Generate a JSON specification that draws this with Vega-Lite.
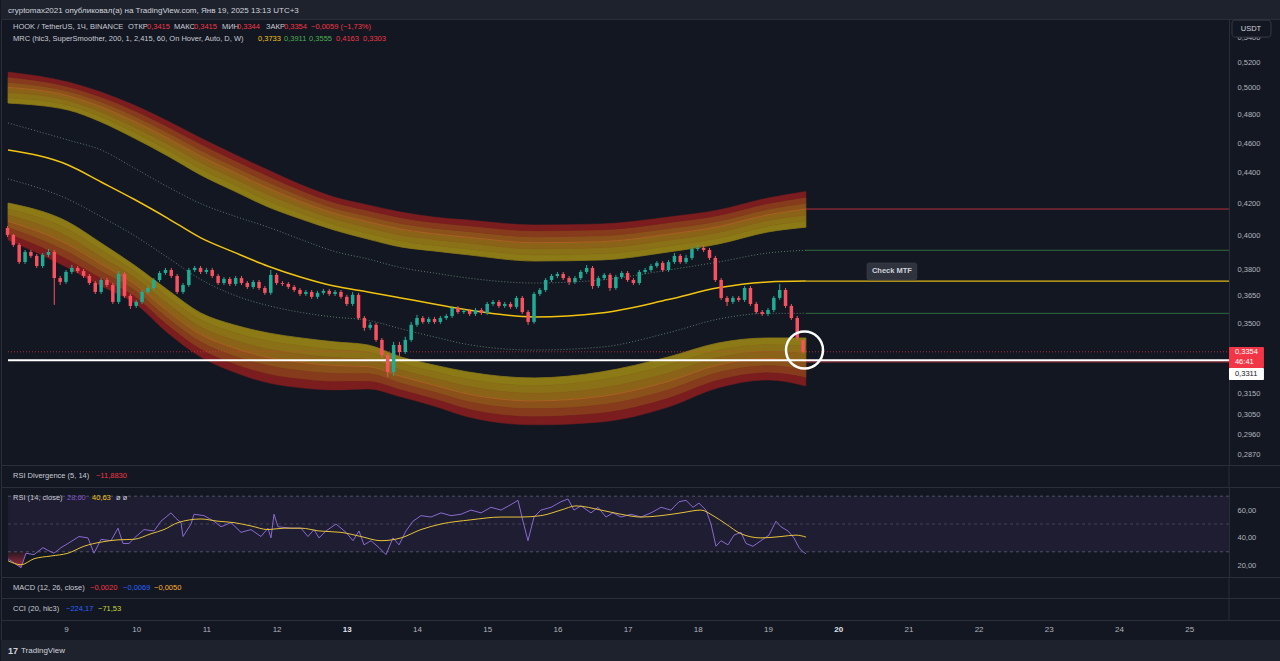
{
"$schema":"https://vega.github.io/schema/vega-lite/v6.json",
"background":"#131722",
"padding":0,
"spacing":0,
"bounds":"flush",
"config":{"view":{"stroke":"#2a2e39","fill":"#131722","strokeWidth":1},"font":"Liberation Sans"},
"datasets":{
"mrc":[
{"t":8.174,"u0":0.4887,"u1":0.4926,"u2":0.4965,"u3":0.5005,"u4":0.5044,"u5":0.5083,"u6":0.5122,"l0":0.4201,"l1":0.4163,"l2":0.4125,"l3":0.4087,"l4":0.4048,"l5":0.401,"l6":0.3972,"m":0.4552,"du":0.4742,"dl":0.4357},
{"t":9.03,"u0":0.4836,"u1":0.4871,"u2":0.4906,"u3":0.4941,"u4":0.4975,"u5":0.501,"u6":0.5045,"l0":0.4082,"l1":0.4036,"l2":0.3991,"l3":0.3945,"l4":0.3899,"l5":0.3854,"l6":0.3808,"m":0.445,"du":0.4621,"dl":0.4225},
{"t":9.5,"u0":0.4749,"u1":0.4786,"u2":0.4822,"u3":0.4859,"u4":0.4896,"u5":0.4932,"u6":0.4969,"l0":0.3954,"l1":0.3913,"l2":0.3871,"l3":0.383,"l4":0.3788,"l5":0.3747,"l6":0.3705,"m":0.4337,"du":0.4552,"dl":0.4115},
{"t":9.97,"u0":0.4635,"u1":0.4675,"u2":0.4714,"u3":0.4754,"u4":0.4793,"u5":0.4833,"u6":0.4872,"l0":0.3825,"l1":0.379,"l2":0.3754,"l3":0.3719,"l4":0.3683,"l5":0.3648,"l6":0.3612,"m":0.4225,"du":0.443,"dl":0.4},
{"t":10.45,"u0":0.4511,"u1":0.4552,"u2":0.4593,"u3":0.4634,"u4":0.4674,"u5":0.4715,"u6":0.4756,"l0":0.3683,"l1":0.3644,"l2":0.3606,"l3":0.3567,"l4":0.3528,"l5":0.349,"l6":0.3451,"m":0.4105,"du":0.4305,"dl":0.3868},
{"t":10.92,"u0":0.4383,"u1":0.4425,"u2":0.4467,"u3":0.4509,"u4":0.4551,"u5":0.4593,"u6":0.4635,"l0":0.3557,"l1":0.3519,"l2":0.3481,"l3":0.3443,"l4":0.3404,"l5":0.3366,"l6":0.3328,"m":0.3985,"du":0.4197,"dl":0.3742},
{"t":11.39,"u0":0.4279,"u1":0.432,"u2":0.4361,"u3":0.4402,"u4":0.4442,"u5":0.4483,"u6":0.4524,"l0":0.3494,"l1":0.3454,"l2":0.3414,"l3":0.3374,"l4":0.3333,"l5":0.3293,"l6":0.3253,"m":0.39,"du":0.412,"dl":0.3655},
{"t":11.88,"u0":0.4176,"u1":0.4216,"u2":0.4256,"u3":0.4296,"u4":0.4336,"u5":0.4376,"u6":0.4416,"l0":0.3451,"l1":0.3409,"l2":0.3367,"l3":0.3326,"l4":0.3284,"l5":0.3242,"l6":0.32,"m":0.3818,"du":0.405,"dl":0.3597},
{"t":12.35,"u0":0.41,"u1":0.4136,"u2":0.4173,"u3":0.4209,"u4":0.4245,"u5":0.4282,"u6":0.4318,"l0":0.3425,"l1":0.3384,"l2":0.3342,"l3":0.3301,"l4":0.3259,"l5":0.3218,"l6":0.3176,"m":0.3755,"du":0.3975,"dl":0.356},
{"t":12.82,"u0":0.4033,"u1":0.4067,"u2":0.4102,"u3":0.4136,"u4":0.417,"u5":0.4205,"u6":0.4239,"l0":0.3405,"l1":0.3365,"l2":0.3325,"l3":0.3286,"l4":0.3246,"l5":0.3206,"l6":0.3166,"m":0.3705,"du":0.3905,"dl":0.3535},
{"t":13.3,"u0":0.3978,"u1":0.4013,"u2":0.4048,"u3":0.4084,"u4":0.4119,"u5":0.4154,"u6":0.4189,"l0":0.3389,"l1":0.3353,"l2":0.3316,"l3":0.328,"l4":0.3244,"l5":0.3207,"l6":0.3171,"m":0.3672,"du":0.386,"dl":0.3518},
{"t":13.77,"u0":0.3931,"u1":0.3967,"u2":0.4002,"u3":0.4038,"u4":0.4073,"u5":0.4109,"u6":0.4144,"l0":0.3328,"l1":0.3296,"l2":0.3263,"l3":0.3231,"l4":0.3198,"l5":0.3166,"l6":0.3133,"m":0.3639,"du":0.381,"dl":0.3473},
{"t":14.24,"u0":0.3907,"u1":0.3941,"u2":0.3976,"u3":0.401,"u4":0.4044,"u5":0.4079,"u6":0.4113,"l0":0.3288,"l1":0.3255,"l2":0.3222,"l3":0.3189,"l4":0.3156,"l5":0.3123,"l6":0.309,"m":0.3606,"du":0.3779,"dl":0.3431},
{"t":14.73,"u0":0.3884,"u1":0.3919,"u2":0.3954,"u3":0.3989,"u4":0.4024,"u5":0.4059,"u6":0.4094,"l0":0.3253,"l1":0.3217,"l2":0.3182,"l3":0.3146,"l4":0.311,"l5":0.3075,"l6":0.3039,"m":0.3573,"du":0.375,"dl":0.3391},
{"t":15.67,"u0":0.3848,"u1":0.3884,"u2":0.392,"u3":0.3956,"u4":0.3992,"u5":0.4028,"u6":0.4064,"l0":0.3224,"l1":0.3187,"l2":0.315,"l3":0.3114,"l4":0.3077,"l5":0.304,"l6":0.3003,"m":0.3536,"du":0.3722,"dl":0.3363},
{"t":16.62,"u0":0.3854,"u1":0.389,"u2":0.3926,"u3":0.3962,"u4":0.3998,"u5":0.4034,"u6":0.407,"l0":0.3253,"l1":0.3214,"l2":0.3174,"l3":0.3135,"l4":0.3095,"l5":0.3056,"l6":0.3016,"m":0.3557,"du":0.3739,"dl":0.3378},
{"t":17.58,"u0":0.3901,"u1":0.3936,"u2":0.3972,"u3":0.4007,"u4":0.4042,"u5":0.4078,"u6":0.4113,"l0":0.3328,"l1":0.3288,"l2":0.3247,"l3":0.3207,"l4":0.3166,"l5":0.3126,"l6":0.3085,"m":0.363,"du":0.3796,"dl":0.3452},
{"t":18.29,"u0":0.3948,"u1":0.3983,"u2":0.4018,"u3":0.4053,"u4":0.4087,"u5":0.4122,"u6":0.4157,"l0":0.3399,"l1":0.3362,"l2":0.3325,"l3":0.3288,"l4":0.325,"l5":0.3213,"l6":0.3176,"m":0.3695,"du":0.3842,"dl":0.3524},
{"t":19.0,"u0":0.4021,"u1":0.4056,"u2":0.4092,"u3":0.4127,"u4":0.4162,"u5":0.4198,"u6":0.4233,"l0":0.3425,"l1":0.339,"l2":0.3355,"l3":0.332,"l4":0.3284,"l5":0.3249,"l6":0.3214,"m":0.3728,"du":0.3895,"dl":0.3555},
{"t":19.54,"u0":0.405,"u1":0.4088,"u2":0.4125,"u3":0.4163,"u4":0.42,"u5":0.4238,"u6":0.4275,"l0":0.3425,"l1":0.3385,"l2":0.3345,"l3":0.3305,"l4":0.3265,"l5":0.3225,"l6":0.3185,"m":0.3733,"du":0.3911,"dl":0.3555}
],
"candles":[
{"t":8.167,"o":0.4045,"h":0.4057,"l":0.399,"c":0.4003},
{"t":8.25,"o":0.4003,"h":0.4009,"l":0.3931,"c":0.3943},
{"t":8.333,"o":0.3943,"h":0.3954,"l":0.3831,"c":0.3842},
{"t":8.417,"o":0.3842,"h":0.3913,"l":0.3831,"c":0.3901},
{"t":8.5,"o":0.3901,"h":0.3913,"l":0.3866,"c":0.3878},
{"t":8.583,"o":0.3878,"h":0.3889,"l":0.3808,"c":0.3819},
{"t":8.667,"o":0.3819,"h":0.3895,"l":0.3808,"c":0.3884},
{"t":8.75,"o":0.3884,"h":0.3919,"l":0.3872,"c":0.3901},
{"t":8.833,"o":0.3901,"h":0.3913,"l":0.3601,"c":0.375},
{"t":8.917,"o":0.375,"h":0.3762,"l":0.3711,"c":0.3728},
{"t":9.0,"o":0.3728,"h":0.3796,"l":0.3717,"c":0.3785},
{"t":9.083,"o":0.3785,"h":0.3825,"l":0.3773,"c":0.3808},
{"t":9.167,"o":0.3808,"h":0.3819,"l":0.3779,"c":0.379},
{"t":9.25,"o":0.379,"h":0.3802,"l":0.375,"c":0.3762},
{"t":9.333,"o":0.3762,"h":0.3773,"l":0.3711,"c":0.3722},
{"t":9.417,"o":0.3722,"h":0.3733,"l":0.3661,"c":0.3672},
{"t":9.5,"o":0.3672,"h":0.375,"l":0.3661,"c":0.3739},
{"t":9.583,"o":0.3739,"h":0.375,"l":0.37,"c":0.3711},
{"t":9.667,"o":0.3711,"h":0.3722,"l":0.3606,"c":0.3617},
{"t":9.75,"o":0.3617,"h":0.379,"l":0.3606,"c":0.3773},
{"t":9.833,"o":0.3773,"h":0.3785,"l":0.3639,"c":0.365},
{"t":9.917,"o":0.365,"h":0.3661,"l":0.3579,"c":0.3595},
{"t":10.0,"o":0.3595,"h":0.3628,"l":0.3584,"c":0.3617},
{"t":10.083,"o":0.3617,"h":0.3683,"l":0.3606,"c":0.3672},
{"t":10.167,"o":0.3672,"h":0.3705,"l":0.3661,"c":0.3694},
{"t":10.25,"o":0.3694,"h":0.375,"l":0.3683,"c":0.3739},
{"t":10.333,"o":0.3739,"h":0.379,"l":0.3728,"c":0.3779},
{"t":10.417,"o":0.3779,"h":0.3808,"l":0.3768,"c":0.3796},
{"t":10.5,"o":0.3796,"h":0.3808,"l":0.375,"c":0.3762},
{"t":10.583,"o":0.3762,"h":0.3773,"l":0.3661,"c":0.3672},
{"t":10.667,"o":0.3672,"h":0.3722,"l":0.3661,"c":0.3711},
{"t":10.75,"o":0.3711,"h":0.3808,"l":0.37,"c":0.3796},
{"t":10.833,"o":0.3796,"h":0.3819,"l":0.3785,"c":0.3808},
{"t":10.917,"o":0.3808,"h":0.3819,"l":0.3773,"c":0.3785},
{"t":11.0,"o":0.3785,"h":0.3808,"l":0.3773,"c":0.3796},
{"t":11.083,"o":0.3796,"h":0.3808,"l":0.375,"c":0.3762},
{"t":11.167,"o":0.3762,"h":0.3773,"l":0.3711,"c":0.3722},
{"t":11.25,"o":0.3722,"h":0.3756,"l":0.3711,"c":0.3745},
{"t":11.333,"o":0.3745,"h":0.3756,"l":0.3705,"c":0.3717},
{"t":11.417,"o":0.3717,"h":0.3762,"l":0.3705,"c":0.375},
{"t":11.5,"o":0.375,"h":0.3762,"l":0.3711,"c":0.3722},
{"t":11.583,"o":0.3722,"h":0.3733,"l":0.3689,"c":0.37},
{"t":11.667,"o":0.37,"h":0.3739,"l":0.3689,"c":0.3728},
{"t":11.75,"o":0.3728,"h":0.3739,"l":0.3683,"c":0.3694},
{"t":11.833,"o":0.3694,"h":0.3705,"l":0.3656,"c":0.3667},
{"t":11.917,"o":0.3667,"h":0.3796,"l":0.3656,"c":0.3768},
{"t":12.0,"o":0.3768,"h":0.3779,"l":0.3711,"c":0.3722},
{"t":12.083,"o":0.3722,"h":0.3733,"l":0.3705,"c":0.3717},
{"t":12.167,"o":0.3717,"h":0.3728,"l":0.3689,"c":0.37},
{"t":12.25,"o":0.37,"h":0.3711,"l":0.3672,"c":0.3683},
{"t":12.333,"o":0.3683,"h":0.3694,"l":0.365,"c":0.3661},
{"t":12.417,"o":0.3661,"h":0.3683,"l":0.365,"c":0.3672},
{"t":12.5,"o":0.3672,"h":0.3683,"l":0.3634,"c":0.3645},
{"t":12.583,"o":0.3645,"h":0.3678,"l":0.3634,"c":0.3667},
{"t":12.667,"o":0.3667,"h":0.3689,"l":0.3656,"c":0.3678},
{"t":12.75,"o":0.3678,"h":0.3689,"l":0.365,"c":0.3661},
{"t":12.833,"o":0.3661,"h":0.3683,"l":0.365,"c":0.3672},
{"t":12.917,"o":0.3672,"h":0.3683,"l":0.3634,"c":0.3645},
{"t":13.0,"o":0.3645,"h":0.3656,"l":0.3595,"c":0.3606},
{"t":13.083,"o":0.3606,"h":0.3672,"l":0.3595,"c":0.3656},
{"t":13.167,"o":0.3656,"h":0.3667,"l":0.352,"c":0.353},
{"t":13.25,"o":0.353,"h":0.3541,"l":0.3462,"c":0.3478},
{"t":13.333,"o":0.3478,"h":0.3509,"l":0.3467,"c":0.3494},
{"t":13.417,"o":0.3494,"h":0.3504,"l":0.3405,"c":0.3415},
{"t":13.5,"o":0.3415,"h":0.3425,"l":0.3323,"c":0.3338},
{"t":13.583,"o":0.3338,"h":0.3348,"l":0.3229,"c":0.3253},
{"t":13.667,"o":0.3253,"h":0.3405,"l":0.3234,"c":0.3389},
{"t":13.75,"o":0.3389,"h":0.3405,"l":0.3333,"c":0.3353},
{"t":13.833,"o":0.3353,"h":0.3431,"l":0.3343,"c":0.3415},
{"t":13.917,"o":0.3415,"h":0.3509,"l":0.3405,"c":0.3494},
{"t":14.0,"o":0.3494,"h":0.3547,"l":0.3483,"c":0.353},
{"t":14.083,"o":0.353,"h":0.3541,"l":0.3499,"c":0.3509},
{"t":14.167,"o":0.3509,"h":0.3536,"l":0.3499,"c":0.3525},
{"t":14.25,"o":0.3525,"h":0.3536,"l":0.3499,"c":0.3509},
{"t":14.333,"o":0.3509,"h":0.3541,"l":0.3499,"c":0.353},
{"t":14.417,"o":0.353,"h":0.3552,"l":0.352,"c":0.3541},
{"t":14.5,"o":0.3541,"h":0.3595,"l":0.353,"c":0.3584},
{"t":14.583,"o":0.3584,"h":0.3595,"l":0.3552,"c":0.3562},
{"t":14.667,"o":0.3562,"h":0.3579,"l":0.3552,"c":0.3568},
{"t":14.75,"o":0.3568,"h":0.3579,"l":0.3541,"c":0.3552},
{"t":14.833,"o":0.3552,"h":0.3584,"l":0.3541,"c":0.3573},
{"t":14.917,"o":0.3573,"h":0.3584,"l":0.3547,"c":0.3557},
{"t":15.0,"o":0.3557,"h":0.3617,"l":0.3547,"c":0.3606},
{"t":15.083,"o":0.3606,"h":0.3628,"l":0.3595,"c":0.3617},
{"t":15.167,"o":0.3617,"h":0.3628,"l":0.3584,"c":0.3595},
{"t":15.25,"o":0.3595,"h":0.3617,"l":0.3584,"c":0.3606},
{"t":15.333,"o":0.3606,"h":0.3617,"l":0.3579,"c":0.359},
{"t":15.417,"o":0.359,"h":0.365,"l":0.3579,"c":0.3639},
{"t":15.5,"o":0.3639,"h":0.365,"l":0.3552,"c":0.3562},
{"t":15.583,"o":0.3562,"h":0.3573,"l":0.3494,"c":0.3509},
{"t":15.667,"o":0.3509,"h":0.3672,"l":0.3499,"c":0.3661},
{"t":15.75,"o":0.3661,"h":0.3694,"l":0.365,"c":0.3683},
{"t":15.833,"o":0.3683,"h":0.375,"l":0.3672,"c":0.3739},
{"t":15.917,"o":0.3739,"h":0.3773,"l":0.3728,"c":0.3762},
{"t":16.0,"o":0.3762,"h":0.3785,"l":0.375,"c":0.3773},
{"t":16.083,"o":0.3773,"h":0.3785,"l":0.3739,"c":0.375},
{"t":16.167,"o":0.375,"h":0.3762,"l":0.3711,"c":0.3728},
{"t":16.25,"o":0.3728,"h":0.3762,"l":0.3717,"c":0.375},
{"t":16.333,"o":0.375,"h":0.3796,"l":0.3739,"c":0.3785},
{"t":16.417,"o":0.3785,"h":0.3825,"l":0.3773,"c":0.3808},
{"t":16.5,"o":0.3808,"h":0.3819,"l":0.3689,"c":0.3705},
{"t":16.583,"o":0.3705,"h":0.3762,"l":0.3694,"c":0.375},
{"t":16.667,"o":0.375,"h":0.3779,"l":0.3739,"c":0.3768},
{"t":16.75,"o":0.3768,"h":0.3779,"l":0.3678,"c":0.3694},
{"t":16.833,"o":0.3694,"h":0.3768,"l":0.3683,"c":0.3756},
{"t":16.917,"o":0.3756,"h":0.379,"l":0.3745,"c":0.3779},
{"t":17.0,"o":0.3779,"h":0.379,"l":0.3728,"c":0.3739},
{"t":17.083,"o":0.3739,"h":0.375,"l":0.3711,"c":0.3722},
{"t":17.167,"o":0.3722,"h":0.3796,"l":0.3711,"c":0.3785},
{"t":17.25,"o":0.3785,"h":0.3808,"l":0.3773,"c":0.3796},
{"t":17.333,"o":0.3796,"h":0.3831,"l":0.3785,"c":0.3819},
{"t":17.417,"o":0.3819,"h":0.3848,"l":0.3808,"c":0.3837},
{"t":17.5,"o":0.3837,"h":0.3848,"l":0.3785,"c":0.3796},
{"t":17.583,"o":0.3796,"h":0.3854,"l":0.3785,"c":0.3842},
{"t":17.667,"o":0.3842,"h":0.3895,"l":0.3831,"c":0.3878},
{"t":17.75,"o":0.3878,"h":0.3889,"l":0.3831,"c":0.3842},
{"t":17.833,"o":0.3842,"h":0.3884,"l":0.3831,"c":0.3866},
{"t":17.917,"o":0.3866,"h":0.3931,"l":0.3854,"c":0.3919},
{"t":18.0,"o":0.3919,"h":0.3943,"l":0.3907,"c":0.3925},
{"t":18.083,"o":0.3925,"h":0.3943,"l":0.3901,"c":0.3913},
{"t":18.167,"o":0.3913,"h":0.3925,"l":0.3854,"c":0.3866},
{"t":18.25,"o":0.3866,"h":0.3878,"l":0.3728,"c":0.3739},
{"t":18.333,"o":0.3739,"h":0.375,"l":0.3628,"c":0.3639},
{"t":18.417,"o":0.3639,"h":0.365,"l":0.3595,"c":0.3617},
{"t":18.5,"o":0.3617,"h":0.365,"l":0.3606,"c":0.3639},
{"t":18.583,"o":0.3639,"h":0.365,"l":0.3617,"c":0.3628},
{"t":18.667,"o":0.3628,"h":0.3705,"l":0.3617,"c":0.3694},
{"t":18.75,"o":0.3694,"h":0.3705,"l":0.3595,"c":0.3606},
{"t":18.833,"o":0.3606,"h":0.3617,"l":0.3552,"c":0.3562},
{"t":18.917,"o":0.3562,"h":0.3573,"l":0.3541,"c":0.3552},
{"t":19.0,"o":0.3552,"h":0.3584,"l":0.3541,"c":0.3573},
{"t":19.083,"o":0.3573,"h":0.365,"l":0.3562,"c":0.3639},
{"t":19.167,"o":0.3639,"h":0.3717,"l":0.3628,"c":0.3683},
{"t":19.25,"o":0.3683,"h":0.3694,"l":0.3584,"c":0.3595},
{"t":19.333,"o":0.3595,"h":0.3606,"l":0.352,"c":0.353},
{"t":19.417,"o":0.353,"h":0.3541,"l":0.341,"c":0.3425},
{"t":19.5,"o":0.3415,"h":0.3415,"l":0.3344,"c":0.3354}
],
"rsi":[
{"t":8.174,"v":25},{"t":8.259,"v":22},{"t":8.359,"v":18.6},{"t":8.43,"v":29},{"t":8.544,"v":28},{"t":8.672,"v":33},{"t":8.744,"v":31},{"t":8.829,"v":29},{"t":8.929,"v":33},{"t":9.028,"v":36},{"t":9.185,"v":41},{"t":9.313,"v":40},{"t":9.399,"v":29},{"t":9.499,"v":39},{"t":9.641,"v":38},{"t":9.741,"v":47},{"t":9.812,"v":36},{"t":9.897,"v":36},{"t":9.997,"v":41},{"t":10.111,"v":46},{"t":10.254,"v":45},{"t":10.353,"v":52},{"t":10.496,"v":58},{"t":10.567,"v":54},{"t":10.638,"v":51},{"t":10.667,"v":41},{"t":10.781,"v":50},{"t":10.823,"v":57},{"t":10.966,"v":56},{"t":11.108,"v":52},{"t":11.208,"v":48},{"t":11.35,"v":51},{"t":11.493,"v":44},{"t":11.635,"v":46},{"t":11.778,"v":41},{"t":11.877,"v":47},{"t":11.92,"v":40},{"t":11.963,"v":57},{"t":12.02,"v":48},{"t":12.205,"v":47},{"t":12.348,"v":47},{"t":12.447,"v":41},{"t":12.533,"v":46},{"t":12.604,"v":40},{"t":12.704,"v":45},{"t":12.846,"v":50},{"t":12.989,"v":44},{"t":13.088,"v":38},{"t":13.174,"v":45},{"t":13.245,"v":35},{"t":13.345,"v":38},{"t":13.459,"v":33},{"t":13.558,"v":28},{"t":13.658,"v":40},{"t":13.744,"v":35},{"t":13.843,"v":45},{"t":13.943,"v":52},{"t":14.057,"v":56},{"t":14.199,"v":55},{"t":14.342,"v":58},{"t":14.484,"v":56},{"t":14.627,"v":57},{"t":14.769,"v":60},{"t":14.912,"v":58},{"t":15.054,"v":62},{"t":15.197,"v":60},{"t":15.339,"v":64},{"t":15.439,"v":67},{"t":15.51,"v":52},{"t":15.581,"v":38},{"t":15.667,"v":55},{"t":15.766,"v":60},{"t":15.909,"v":62},{"t":16.051,"v":66},{"t":16.151,"v":68},{"t":16.236,"v":60},{"t":16.336,"v":63},{"t":16.479,"v":58},{"t":16.578,"v":62},{"t":16.692,"v":55},{"t":16.792,"v":58},{"t":16.906,"v":55},{"t":17.048,"v":57},{"t":17.191,"v":55},{"t":17.333,"v":58},{"t":17.476,"v":62},{"t":17.618,"v":60},{"t":17.732,"v":66},{"t":17.832,"v":67},{"t":17.932,"v":62},{"t":18.017,"v":65},{"t":18.117,"v":60},{"t":18.188,"v":50},{"t":18.259,"v":34},{"t":18.33,"v":38},{"t":18.43,"v":35},{"t":18.516,"v":42},{"t":18.615,"v":44},{"t":18.687,"v":36},{"t":18.786,"v":34},{"t":18.9,"v":38},{"t":19.014,"v":42},{"t":19.114,"v":52},{"t":19.185,"v":48},{"t":19.285,"v":45},{"t":19.37,"v":40},{"t":19.442,"v":33},{"t":19.499,"v":30},{"t":19.541,"v":28.6}
],
"rsima":[
{"t":8.174,"v":23.6},{"t":8.359,"v":20.7},{"t":8.544,"v":25},{"t":8.786,"v":27},{"t":9.028,"v":29},{"t":9.256,"v":34},{"t":9.499,"v":37},{"t":9.741,"v":38.6},{"t":9.969,"v":39},{"t":10.211,"v":43},{"t":10.396,"v":46},{"t":10.595,"v":51},{"t":10.923,"v":53.6},{"t":11.165,"v":52},{"t":11.393,"v":51},{"t":11.635,"v":48.6},{"t":11.877,"v":46},{"t":12.105,"v":47},{"t":12.348,"v":47},{"t":12.604,"v":45},{"t":12.917,"v":44},{"t":13.202,"v":41},{"t":13.487,"v":38},{"t":13.772,"v":40},{"t":14.057,"v":46},{"t":14.342,"v":50},{"t":14.769,"v":53},{"t":15.197,"v":55},{"t":15.481,"v":55},{"t":15.766,"v":56},{"t":16.051,"v":60},{"t":16.265,"v":63},{"t":16.621,"v":60},{"t":16.906,"v":57},{"t":17.191,"v":55},{"t":17.476,"v":56},{"t":17.761,"v":58},{"t":18.046,"v":60},{"t":18.217,"v":56},{"t":18.402,"v":50},{"t":18.615,"v":43},{"t":18.9,"v":40},{"t":19.185,"v":41},{"t":19.399,"v":42},{"t":19.541,"v":40.6}
]
},
"vconcat":[
{"width":1280,"height":19,"view":{"fill":"#1e222d","stroke":null},
 "data":{"values":[{}]},
 "mark":{"type":"text","align":"left","baseline":"middle","fontSize":8,"color":"#d1d4dc"},
 "encoding":{"x":{"datum":8.174,"type":"quantitative","scale":{"domain":[8.074,26.308],"nice":false,"zero":false,"padding":0},"axis":null},
  "y":{"datum":0.42,"type":"quantitative","scale":{"domain":[0,1],"nice":false},"axis":null},
  "text":{"value":"cryptomax2021 опубликовал(а) на TradingView.com, Янв 19, 2025 13:13 UTC+3"}}},
{"width":1280,"height":446,
 "layer":[
  {"data":{"name":"mrc"},"mark":{"type":"area","interpolate":"monotone","color":"#8b7a16","stroke":"#8b7a16","strokeWidth":0.8},"encoding":{"x":{"field":"t","type":"quantitative","scale":{"domain":[8.074,26.308],"nice":false,"zero":false,"padding":0},"axis":null},"y":{"field":"u0","type":"quantitative","scale":{"type":"log","domain":[0.2826,0.555],"nice":false},"axis":{"orient":"right","offset":-52,"values":[0.287,0.296,0.305,0.315,0.35,0.365,0.38,0.4,0.42,0.44,0.46,0.48,0.5,0.52,0.54],"labelExpr":"replace(format(datum.value,'.4f'),'.',',')","title":null,"grid":false,"ticks":false,"domainColor":"#2a2e39","labelColor":"#b2b5be","labelFontSize":7.5,"labelPadding":8}},"y2":{"field":"u1"}}},
  {"data":{"name":"mrc"},"mark":{"type":"area","interpolate":"monotone","color":"#8a7017","stroke":"#8a7017","strokeWidth":0.8},"encoding":{"x":{"field":"t","type":"quantitative","axis":null},"y":{"field":"u1","type":"quantitative"},"y2":{"field":"u2"}}},
  {"data":{"name":"mrc"},"mark":{"type":"area","interpolate":"monotone","color":"#8a6318","stroke":"#8a6318","strokeWidth":0.8},"encoding":{"x":{"field":"t","type":"quantitative","axis":null},"y":{"field":"u2","type":"quantitative"},"y2":{"field":"u3"}}},
  {"data":{"name":"mrc"},"mark":{"type":"area","interpolate":"monotone","color":"#8a521a","stroke":"#8a521a","strokeWidth":0.8},"encoding":{"x":{"field":"t","type":"quantitative","axis":null},"y":{"field":"u3","type":"quantitative"},"y2":{"field":"u4"}}},
  {"data":{"name":"mrc"},"mark":{"type":"area","interpolate":"monotone","color":"#863b1c","stroke":"#863b1c","strokeWidth":0.8},"encoding":{"x":{"field":"t","type":"quantitative","axis":null},"y":{"field":"u4","type":"quantitative"},"y2":{"field":"u5"}}},
  {"data":{"name":"mrc"},"mark":{"type":"area","interpolate":"monotone","color":"#7b1d1f","stroke":"#7b1d1f","strokeWidth":0.5},"encoding":{"x":{"field":"t","type":"quantitative","axis":null},"y":{"field":"u5","type":"quantitative"},"y2":{"field":"u6"}}},
  {"data":{"name":"mrc"},"mark":{"type":"area","interpolate":"monotone","color":"#8b7a16","stroke":"#8b7a16","strokeWidth":0.8},"encoding":{"x":{"field":"t","type":"quantitative","axis":null},"y":{"field":"l0","type":"quantitative"},"y2":{"field":"l1"}}},
  {"data":{"name":"mrc"},"mark":{"type":"area","interpolate":"monotone","color":"#8a7017","stroke":"#8a7017","strokeWidth":0.8},"encoding":{"x":{"field":"t","type":"quantitative","axis":null},"y":{"field":"l1","type":"quantitative"},"y2":{"field":"l2"}}},
  {"data":{"name":"mrc"},"mark":{"type":"area","interpolate":"monotone","color":"#8a6318","stroke":"#8a6318","strokeWidth":0.8},"encoding":{"x":{"field":"t","type":"quantitative","axis":null},"y":{"field":"l2","type":"quantitative"},"y2":{"field":"l3"}}},
  {"data":{"name":"mrc"},"mark":{"type":"area","interpolate":"monotone","color":"#8a521a","stroke":"#8a521a","strokeWidth":0.8},"encoding":{"x":{"field":"t","type":"quantitative","axis":null},"y":{"field":"l3","type":"quantitative"},"y2":{"field":"l4"}}},
  {"data":{"name":"mrc"},"mark":{"type":"area","interpolate":"monotone","color":"#863b1c","stroke":"#863b1c","strokeWidth":0.8},"encoding":{"x":{"field":"t","type":"quantitative","axis":null},"y":{"field":"l4","type":"quantitative"},"y2":{"field":"l5"}}},
  {"data":{"name":"mrc"},"mark":{"type":"area","interpolate":"monotone","color":"#7b1d1f","stroke":"#7b1d1f","strokeWidth":0.5},"encoding":{"x":{"field":"t","type":"quantitative","axis":null},"y":{"field":"l5","type":"quantitative"},"y2":{"field":"l6"}}},
  {"data":{"name":"mrc"},"mark":{"type":"line","interpolate":"monotone","color":"#d0702c","strokeWidth":0.8,"opacity":0.6},"encoding":{"x":{"field":"t","type":"quantitative","axis":null},"y":{"field":"u3","type":"quantitative"}}},
  {"data":{"name":"mrc"},"mark":{"type":"line","interpolate":"monotone","color":"#d0702c","strokeWidth":0.8,"opacity":0.6},"encoding":{"x":{"field":"t","type":"quantitative","axis":null},"y":{"field":"l3","type":"quantitative"}}},
  {"data":{"name":"mrc"},"mark":{"type":"line","interpolate":"monotone","color":"#6a8c76","strokeWidth":1,"strokeDash":[1,2],"opacity":0.85},"encoding":{"x":{"field":"t","type":"quantitative","axis":null},"y":{"field":"du","type":"quantitative"}}},
  {"data":{"name":"mrc"},"mark":{"type":"line","interpolate":"monotone","color":"#6a8c76","strokeWidth":1,"strokeDash":[1,2],"opacity":0.85},"encoding":{"x":{"field":"t","type":"quantitative","axis":null},"y":{"field":"dl","type":"quantitative"}}},
  {"data":{"name":"mrc"},"mark":{"type":"line","interpolate":"monotone","color":"#f2c40f","strokeWidth":1.5},"encoding":{"x":{"field":"t","type":"quantitative","axis":null},"y":{"field":"m","type":"quantitative"}}},
  {"data":{"values":[{}]},"mark":{"type":"rule","color":"#b2323c","strokeWidth":1},"encoding":{"x":{"datum":19.54,"type":"quantitative","axis":null},"x2":{"datum":25.567},"y":{"datum":0.4163,"type":"quantitative"}}},
  {"data":{"values":[{}]},"mark":{"type":"rule","color":"#2f6a3e","strokeWidth":1},"encoding":{"x":{"datum":19.54,"type":"quantitative","axis":null},"x2":{"datum":25.567},"y":{"datum":0.3911,"type":"quantitative"}}},
  {"data":{"values":[{}]},"mark":{"type":"rule","color":"#e0b816","strokeWidth":1.2},"encoding":{"x":{"datum":19.54,"type":"quantitative","axis":null},"x2":{"datum":25.567},"y":{"datum":0.3733,"type":"quantitative"}}},
  {"data":{"values":[{}]},"mark":{"type":"rule","color":"#2f6a3e","strokeWidth":1},"encoding":{"x":{"datum":19.54,"type":"quantitative","axis":null},"x2":{"datum":25.567},"y":{"datum":0.3555,"type":"quantitative"}}},
  {"data":{"values":[{}]},"mark":{"type":"rule","color":"#b2323c","strokeWidth":1},"encoding":{"x":{"datum":19.54,"type":"quantitative","axis":null},"x2":{"datum":25.567},"y":{"datum":0.3303,"type":"quantitative"}}},
  {"data":{"values":[{}]},"mark":{"type":"rule","color":"#f23645","strokeWidth":1,"strokeDash":[1,2],"opacity":0.7},"encoding":{"x":{"datum":8.174,"type":"quantitative","axis":null},"x2":{"datum":25.567},"y":{"datum":0.3354,"type":"quantitative"}}},
  {"data":{"values":[{}]},"mark":{"type":"rule","color":"#ffffff","strokeWidth":2},"encoding":{"x":{"datum":8.174,"type":"quantitative","axis":null},"x2":{"datum":25.567},"y":{"datum":0.3311,"type":"quantitative"}}},
  {"data":{"name":"candles"},"mark":{"type":"rule","strokeWidth":1},"encoding":{"x":{"field":"t","type":"quantitative","axis":null},"y":{"field":"l","type":"quantitative"},"y2":{"field":"h"},"color":{"condition":{"test":"datum.c >= datum.o","value":"#22ab94"},"value":"#f7525f"}}},
  {"data":{"name":"candles"},"mark":{"type":"bar","width":3.5},"encoding":{"x":{"field":"t","type":"quantitative","axis":null},"y":{"field":"o","type":"quantitative"},"y2":{"field":"c"},"color":{"condition":{"test":"datum.c >= datum.o","value":"#22ab94"},"value":"#f7525f"}}},
  {"data":{"values":[{}]},"mark":{"type":"point","shape":"circle","size":1369,"filled":false,"stroke":"#ffffff","strokeWidth":2.5,"opacity":1},"encoding":{"x":{"datum":19.52,"type":"quantitative","axis":null},"y":{"datum":0.3363,"type":"quantitative"}}},
  {"data":{"values":[{}]},"mark":{"type":"rect","color":"#2f333e","cornerRadius":2,"stroke":"#434651","strokeWidth":0.5},"encoding":{"x":{"datum":20.41,"type":"quantitative","axis":null},"x2":{"datum":21.12},"y":{"datum":0.3739,"type":"quantitative"},"y2":{"datum":0.3837}}},
  {"data":{"values":[{}]},"mark":{"type":"text","align":"center","baseline":"middle","fontSize":7.5,"fontWeight":"bold","color":"#d1d4dc"},"encoding":{"x":{"datum":20.765,"type":"quantitative","axis":null},"y":{"datum":0.379,"type":"quantitative"},"text":{"value":"Check MTF"}}},
  {"data":{"values":[{}]},"mark":{"type":"rect","color":"#131722","cornerRadius":3,"stroke":"#363a45","strokeWidth":1},"encoding":{"x":{"datum":25.61,"type":"quantitative","axis":null},"x2":{"datum":26.165},"y":{"datum":0.54,"type":"quantitative"},"y2":{"datum":0.5541}}},
  {"data":{"values":[{}]},"mark":{"type":"text","align":"center","baseline":"middle","fontSize":7.5,"color":"#d1d4dc"},"encoding":{"x":{"datum":25.88,"type":"quantitative","axis":null},"y":{"datum":0.547,"type":"quantitative"},"text":{"value":"USDT"}}},
  {"data":{"values":[{}]},"mark":{"type":"rect","color":"#f23645","cornerRadius":1},"encoding":{"x":{"datum":25.567,"type":"quantitative","axis":null},"x2":{"datum":26.065},"y":{"datum":0.3273,"type":"quantitative"},"y2":{"datum":0.3379}}},
  {"data":{"values":[{}]},"mark":{"type":"rect","color":"#ffffff","cornerRadius":1},"encoding":{"x":{"datum":25.567,"type":"quantitative","axis":null},"x2":{"datum":26.065},"y":{"datum":0.3214,"type":"quantitative"},"y2":{"datum":0.3273}}},
  {"data":{"values":[{}]},"mark":{"type":"text","align":"left","baseline":"middle","fontSize":7.5,"color":"#ffffff"},"encoding":{"x":{"datum":25.652,"type":"quantitative","axis":null},"y":{"datum":0.3353,"type":"quantitative"},"text":{"value":"0,3354"}}},
  {"data":{"values":[{}]},"mark":{"type":"text","align":"left","baseline":"middle","fontSize":7.5,"color":"#ffffff"},"encoding":{"x":{"datum":25.652,"type":"quantitative","axis":null},"y":{"datum":0.3301,"type":"quantitative"},"text":{"value":"46:41"}}},
  {"data":{"values":[{}]},"mark":{"type":"text","align":"left","baseline":"middle","fontSize":7.5,"color":"#131722"},"encoding":{"x":{"datum":25.652,"type":"quantitative","axis":null},"y":{"datum":0.3243,"type":"quantitative"},"text":{"value":"0,3311"}}},
  {"data":{"values":[{}]},"mark":{"type":"text","align":"left","baseline":"middle","fontSize":7.5,"color":"#c8cbd3"},"encoding":{"x":{"datum":8.245,"type":"quantitative","axis":null},"y":{"datum":0.5483,"type":"quantitative"},"text":{"value":"HOOK / TetherUS, 1Ч, BINANCE"}}},
  {"data":{"values":[{}]},"mark":{"type":"text","align":"left","baseline":"middle","fontSize":7.5,"color":"#c8cbd3"},"encoding":{"x":{"datum":9.883,"type":"quantitative","axis":null},"y":{"datum":0.5483,"type":"quantitative"},"text":{"value":"ОТКР"}}},
  {"data":{"values":[{}]},"mark":{"type":"text","align":"left","baseline":"middle","fontSize":7.5,"color":"#f23645"},"encoding":{"x":{"datum":10.154,"type":"quantitative","axis":null},"y":{"datum":0.5483,"type":"quantitative"},"text":{"value":"0,3415"}}},
  {"data":{"values":[{}]},"mark":{"type":"text","align":"left","baseline":"middle","fontSize":7.5,"color":"#c8cbd3"},"encoding":{"x":{"datum":10.538,"type":"quantitative","axis":null},"y":{"datum":0.5483,"type":"quantitative"},"text":{"value":"МАКС"}}},
  {"data":{"values":[{}]},"mark":{"type":"text","align":"left","baseline":"middle","fontSize":7.5,"color":"#f23645"},"encoding":{"x":{"datum":10.823,"type":"quantitative","axis":null},"y":{"datum":0.5483,"type":"quantitative"},"text":{"value":"0,3415"}}},
  {"data":{"values":[{}]},"mark":{"type":"text","align":"left","baseline":"middle","fontSize":7.5,"color":"#c8cbd3"},"encoding":{"x":{"datum":11.222,"type":"quantitative","axis":null},"y":{"datum":0.5483,"type":"quantitative"},"text":{"value":"МИН"}}},
  {"data":{"values":[{}]},"mark":{"type":"text","align":"left","baseline":"middle","fontSize":7.5,"color":"#f23645"},"encoding":{"x":{"datum":11.436,"type":"quantitative","axis":null},"y":{"datum":0.5483,"type":"quantitative"},"text":{"value":"0,3344"}}},
  {"data":{"values":[{}]},"mark":{"type":"text","align":"left","baseline":"middle","fontSize":7.5,"color":"#c8cbd3"},"encoding":{"x":{"datum":11.849,"type":"quantitative","axis":null},"y":{"datum":0.5483,"type":"quantitative"},"text":{"value":"ЗАКР"}}},
  {"data":{"values":[{}]},"mark":{"type":"text","align":"left","baseline":"middle","fontSize":7.5,"color":"#f23645"},"encoding":{"x":{"datum":12.105,"type":"quantitative","axis":null},"y":{"datum":0.5483,"type":"quantitative"},"text":{"value":"0,3354"}}},
  {"data":{"values":[{}]},"mark":{"type":"text","align":"left","baseline":"middle","fontSize":7.5,"color":"#f23645"},"encoding":{"x":{"datum":12.49,"type":"quantitative","axis":null},"y":{"datum":0.5483,"type":"quantitative"},"text":{"value":"−0,0059 (−1,73%)"}}},
  {"data":{"values":[{}]},"mark":{"type":"text","align":"left","baseline":"middle","fontSize":7.5,"color":"#c8cbd3"},"encoding":{"x":{"datum":8.245,"type":"quantitative","axis":null},"y":{"datum":0.5384,"type":"quantitative"},"text":{"value":"MRC (hlc3, SuperSmoother, 200, 1, 2,415, 60, On Hover, Auto, D, W)"}}},
  {"data":{"values":[{}]},"mark":{"type":"text","align":"left","baseline":"middle","fontSize":7.5,"color":"#f2c40f"},"encoding":{"x":{"datum":11.735,"type":"quantitative","axis":null},"y":{"datum":0.5384,"type":"quantitative"},"text":{"value":"0,3733"}}},
  {"data":{"values":[{}]},"mark":{"type":"text","align":"left","baseline":"middle","fontSize":7.5,"color":"#4caf50"},"encoding":{"x":{"datum":12.105,"type":"quantitative","axis":null},"y":{"datum":0.5384,"type":"quantitative"},"text":{"value":"0,3911"}}},
  {"data":{"values":[{}]},"mark":{"type":"text","align":"left","baseline":"middle","fontSize":7.5,"color":"#4caf50"},"encoding":{"x":{"datum":12.462,"type":"quantitative","axis":null},"y":{"datum":0.5384,"type":"quantitative"},"text":{"value":"0,3555"}}},
  {"data":{"values":[{}]},"mark":{"type":"text","align":"left","baseline":"middle","fontSize":7.5,"color":"#f23645"},"encoding":{"x":{"datum":12.846,"type":"quantitative","axis":null},"y":{"datum":0.5384,"type":"quantitative"},"text":{"value":"0,4163"}}},
  {"data":{"values":[{}]},"mark":{"type":"text","align":"left","baseline":"middle","fontSize":7.5,"color":"#f23645"},"encoding":{"x":{"datum":13.231,"type":"quantitative","axis":null},"y":{"datum":0.5384,"type":"quantitative"},"text":{"value":"0,3303"}}}
 ]},
{"width":1280,"height":22,
 "layer":[
  {"data":{"values":[{}]},"mark":{"type":"rule","color":"#2a2e39"},"encoding":{"x":{"datum":25.567,"type":"quantitative","scale":{"domain":[8.074,26.308],"nice":false,"zero":false,"padding":0},"axis":null}}},
  {"data":{"values":[{}]},"mark":{"type":"text","align":"left","baseline":"middle","fontSize":7.5,"color":"#c8cbd3"},"encoding":{"x":{"datum":8.245,"type":"quantitative","axis":null},"y":{"datum":0.5,"type":"quantitative","scale":{"domain":[0,1],"nice":false},"axis":null},"text":{"value":"RSI Divergence (5, 14)"}}},
  {"data":{"values":[{}]},"mark":{"type":"text","align":"left","baseline":"middle","fontSize":7.5,"color":"#f23645"},"encoding":{"x":{"datum":9.427,"type":"quantitative","axis":null},"y":{"datum":0.5,"type":"quantitative","axis":null},"text":{"value":"−11,8830"}}}
 ]},
{"width":1280,"height":90,
 "layer":[
  {"data":{"name":"rsi"},"mark":{"type":"line","color":"#8a6ad0","strokeWidth":1,"opacity":0},"encoding":{"x":{"field":"t","type":"quantitative","scale":{"domain":[8.074,26.308],"nice":false,"zero":false,"padding":0},"axis":null},"y":{"field":"v","type":"quantitative","scale":{"domain":[11.9,76.6],"nice":false,"zero":false},"axis":{"orient":"right","offset":-52,"values":[20,40,60],"labelExpr":"replace(format(datum.value,'.2f'),'.',',')","title":null,"grid":false,"ticks":false,"domainColor":"#2a2e39","labelColor":"#b2b5be","labelFontSize":7.5,"labelPadding":8}}}},
  {"data":{"values":[{}]},"mark":{"type":"rect","color":"#7e57c2","opacity":0.1},"encoding":{"x":{"datum":8.174,"type":"quantitative","axis":null},"x2":{"datum":25.567},"y":{"datum":30,"type":"quantitative"},"y2":{"datum":70}}},
  {"data":{"values":[{}]},"mark":{"type":"rule","color":"#787b86","strokeDash":[3,3],"opacity":0.6},"encoding":{"x":{"datum":8.174,"type":"quantitative","axis":null},"x2":{"datum":25.567},"y":{"datum":70,"type":"quantitative"}}},
  {"data":{"values":[{}]},"mark":{"type":"rule","color":"#787b86","strokeDash":[3,3],"opacity":0.4},"encoding":{"x":{"datum":8.174,"type":"quantitative","axis":null},"x2":{"datum":25.567},"y":{"datum":50,"type":"quantitative"}}},
  {"data":{"values":[{}]},"mark":{"type":"rule","color":"#787b86","strokeDash":[3,3],"opacity":0.6},"encoding":{"x":{"datum":8.174,"type":"quantitative","axis":null},"x2":{"datum":25.567},"y":{"datum":30,"type":"quantitative"}}},
  {"data":{"name":"rsi"},"transform":[{"filter":"datum.t <= 8.43"}],"mark":{"type":"area","color":{"gradient":"linear","x1":0,"y1":1,"x2":0,"y2":0,"stops":[{"offset":0,"color":"rgba(242,54,69,0.65)"},{"offset":1,"color":"rgba(242,54,69,0.08)"}]}},"encoding":{"x":{"field":"t","type":"quantitative","axis":null},"y":{"field":"v","type":"quantitative"},"y2":{"datum":30}}},
  {"data":{"name":"rsi"},"mark":{"type":"line","color":"#8a6ad0","strokeWidth":1},"encoding":{"x":{"field":"t","type":"quantitative","axis":null},"y":{"field":"v","type":"quantitative"}}},
  {"data":{"name":"rsima"},"mark":{"type":"line","interpolate":"monotone","color":"#e8c23a","strokeWidth":1},"encoding":{"x":{"field":"t","type":"quantitative","axis":null},"y":{"field":"v","type":"quantitative"}}},
  {"data":{"values":[{}]},"mark":{"type":"text","align":"left","baseline":"middle","fontSize":7.5,"color":"#c8cbd3"},"encoding":{"x":{"datum":8.245,"type":"quantitative","axis":null},"y":{"datum":69,"type":"quantitative"},"text":{"value":"RSI (14, close)"}}},
  {"data":{"values":[{}]},"mark":{"type":"text","align":"left","baseline":"middle","fontSize":7.5,"color":"#7e57c2"},"encoding":{"x":{"datum":9.014,"type":"quantitative","axis":null},"y":{"datum":69,"type":"quantitative"},"text":{"value":"28,60"}}},
  {"data":{"values":[{}]},"mark":{"type":"text","align":"left","baseline":"middle","fontSize":7.5,"color":"#f2c40f"},"encoding":{"x":{"datum":9.37,"type":"quantitative","axis":null},"y":{"datum":69,"type":"quantitative"},"text":{"value":"40,63"}}},
  {"data":{"values":[{}]},"mark":{"type":"text","align":"left","baseline":"middle","fontSize":7.5,"color":"#c8cbd3"},"encoding":{"x":{"datum":9.712,"type":"quantitative","axis":null},"y":{"datum":69,"type":"quantitative"},"text":{"value":"ø  ø"}}}
 ]},
{"width":1280,"height":21,
 "layer":[
  {"data":{"values":[{}]},"mark":{"type":"rule","color":"#2a2e39"},"encoding":{"x":{"datum":25.567,"type":"quantitative","scale":{"domain":[8.074,26.308],"nice":false,"zero":false,"padding":0},"axis":null}}},
  {"data":{"values":[{}]},"mark":{"type":"text","align":"left","baseline":"middle","fontSize":7.5,"color":"#c8cbd3"},"encoding":{"x":{"datum":8.245,"type":"quantitative","axis":null},"y":{"datum":0.5,"type":"quantitative","scale":{"domain":[0,1],"nice":false},"axis":null},"text":{"value":"MACD (12, 26, close)"}}},
  {"data":{"values":[{}]},"mark":{"type":"text","align":"left","baseline":"middle","fontSize":7.5,"color":"#f23645"},"encoding":{"x":{"datum":9.342,"type":"quantitative","axis":null},"y":{"datum":0.5,"type":"quantitative","axis":null},"text":{"value":"−0,0020"}}},
  {"data":{"values":[{}]},"mark":{"type":"text","align":"left","baseline":"middle","fontSize":7.5,"color":"#2962ff"},"encoding":{"x":{"datum":9.812,"type":"quantitative","axis":null},"y":{"datum":0.5,"type":"quantitative","axis":null},"text":{"value":"−0,0069"}}},
  {"data":{"values":[{}]},"mark":{"type":"text","align":"left","baseline":"middle","fontSize":7.5,"color":"#ffb22e"},"encoding":{"x":{"datum":10.254,"type":"quantitative","axis":null},"y":{"datum":0.5,"type":"quantitative","axis":null},"text":{"value":"−0,0050"}}}
 ]},
{"width":1280,"height":22,
 "layer":[
  {"data":{"values":[{}]},"mark":{"type":"rule","color":"#2a2e39"},"encoding":{"x":{"datum":25.567,"type":"quantitative","scale":{"domain":[8.074,26.308],"nice":false,"zero":false,"padding":0},"axis":null}}},
  {"data":{"values":[{}]},"mark":{"type":"text","align":"left","baseline":"middle","fontSize":7.5,"color":"#c8cbd3"},"encoding":{"x":{"datum":8.245,"type":"quantitative","axis":null},"y":{"datum":0.5,"type":"quantitative","scale":{"domain":[0,1],"nice":false},"axis":null},"text":{"value":"CCI (20, hlc3)"}}},
  {"data":{"values":[{}]},"mark":{"type":"text","align":"left","baseline":"middle","fontSize":7.5,"color":"#2962ff"},"encoding":{"x":{"datum":9.0,"type":"quantitative","axis":null},"y":{"datum":0.5,"type":"quantitative","axis":null},"text":{"value":"−224,17"}}},
  {"data":{"values":[{}]},"mark":{"type":"text","align":"left","baseline":"middle","fontSize":7.5,"color":"#c6d83a"},"encoding":{"x":{"datum":9.456,"type":"quantitative","axis":null},"y":{"datum":0.5,"type":"quantitative","axis":null},"text":{"value":"−71,53"}}}
 ]},
{"width":1280,"height":20,
 "data":{"name":"rsima"},
 "mark":{"type":"tick","opacity":0},
 "encoding":{"x":{"field":"t","type":"quantitative","scale":{"domain":[8.074,26.308],"nice":false,"zero":false,"padding":0},
  "axis":{"orient":"bottom","offset":-20,"values":[9,10,11,12,13,14,15,16,17,18,19,20,21,22,23,24,25],"format":"d","title":null,"grid":false,"ticks":false,"domain":false,"labelPadding":5,"labelFontSize":8,"labelFlush":false,
   "labelColor":{"condition":{"test":"datum.value == 13 || datum.value == 20","value":"#e0e3eb"},"value":"#b2b5be"},
   "labelFontWeight":{"condition":{"test":"datum.value == 13 || datum.value == 20","value":"bold"},"value":"normal"}}}}},
{"width":1280,"height":21,"view":{"fill":"#1e222d","stroke":null},
 "layer":[
  {"data":{"values":[{}]},"mark":{"type":"text","align":"left","baseline":"middle","fontSize":9,"fontWeight":"bold","color":"#d1d4dc"},"encoding":{"x":{"datum":8.174,"type":"quantitative","scale":{"domain":[8.074,26.308],"nice":false,"zero":false,"padding":0},"axis":null},"y":{"datum":0.5,"type":"quantitative","scale":{"domain":[0,1],"nice":false},"axis":null},"text":{"value":"17"}}},
  {"data":{"values":[{}]},"mark":{"type":"text","align":"left","baseline":"middle","fontSize":8,"color":"#d1d4dc"},"encoding":{"x":{"datum":8.359,"type":"quantitative","axis":null},"y":{"datum":0.5,"type":"quantitative","axis":null},"text":{"value":"TradingView"}}}
 ]}
]
}
